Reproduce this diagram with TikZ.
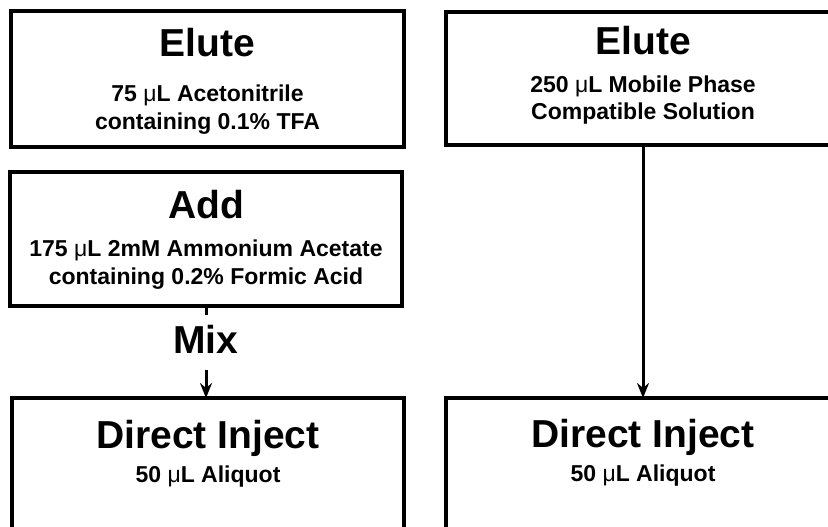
\documentclass[tikz,border=0pt]{standalone}
\usepackage{fontspec}
\setmainfont{Liberation Sans}
\usetikzlibrary{arrows.meta}

\tikzset{
  stepbox/.style={draw, line width=3.5pt, inner sep=0pt, outer sep=0pt},
  title/.style={font=\fontsize{39}{44}\selectfont\bfseries, inner sep=0pt, anchor=base},
  detail/.style={font=\fontsize{23}{27.5}\selectfont\bfseries, inner sep=0pt, anchor=base, align=center},
  flow/.style={line width=3pt, -{Stealth[length=15pt,width=12pt,inset=5pt]}}
}

\begin{document}
\begin{tikzpicture}[x=1pt,y=1pt]
    \useasboundingbox (0,0) rectangle (828,-527);
    \clip (0,0) rectangle (828,-527);

    % left column
    \node[stepbox, minimum width=393pt, minimum height=136pt] (eluteL) at (207.5,-79) {};
    \node[title]  (eluteLt) at ([yshift=-46pt]eluteL.north) {Elute};
    \node[detail] (eluteLd) at ([yshift=-118pt]eluteL.north) {75 {\mdseries μ}L Acetonitrile\\containing 0.1\% TFA};

    \node[stepbox, minimum width=392pt, minimum height=134pt] (addL) at (206,-239) {};
    \node[title]  (addLt) at ([yshift=-46pt]addL.north) {Add};
    \node[detail] (addLd) at ([yshift=-112pt]addL.north) {175 {\mdseries μ}L 2mM Ammonium Acetate\\containing 0.2\% Formic Acid};

    \node[stepbox, minimum width=392pt, minimum height=170pt] (injL) at (208,-483) {};
    \node[title]  (injLt) at ([yshift=-50pt]injL.north) {Direct Inject};
    \node[detail] (injLd) at ([yshift=-84pt]injL.north) {50 {\mdseries μ}L Aliquot};

    \node[title, anchor=north, text height=38pt, text depth=17pt] (mix) at ([yshift=-9pt]addL.south) {Mix};
    \draw[line width=3pt] (addL.south) -- (mix.north);
    \draw[flow] (mix.south) -- (mix.south |- injL.north);

    % right column
    \node[stepbox, minimum width=394pt, minimum height=133pt] (eluteR) at (643,-78.5) {};
    \node[title]  (eluteRt) at ([yshift=-43pt]eluteR.north) {Elute};
    \node[detail] (eluteRd) at ([yshift=-108pt]eluteR.north) {250 {\mdseries μ}L Mobile Phase\\Compatible Solution};

    \node[stepbox, minimum width=394pt, minimum height=170pt] (injR) at (643,-483) {};
    \node[title]  (injRt) at ([yshift=-49pt]injR.north) {Direct Inject};
    \node[detail] (injRd) at ([yshift=-83pt]injR.north) {50 {\mdseries μ}L Aliquot};

    \draw[flow] (eluteR.south) -- (injR.north);
\end{tikzpicture}
\end{document}
